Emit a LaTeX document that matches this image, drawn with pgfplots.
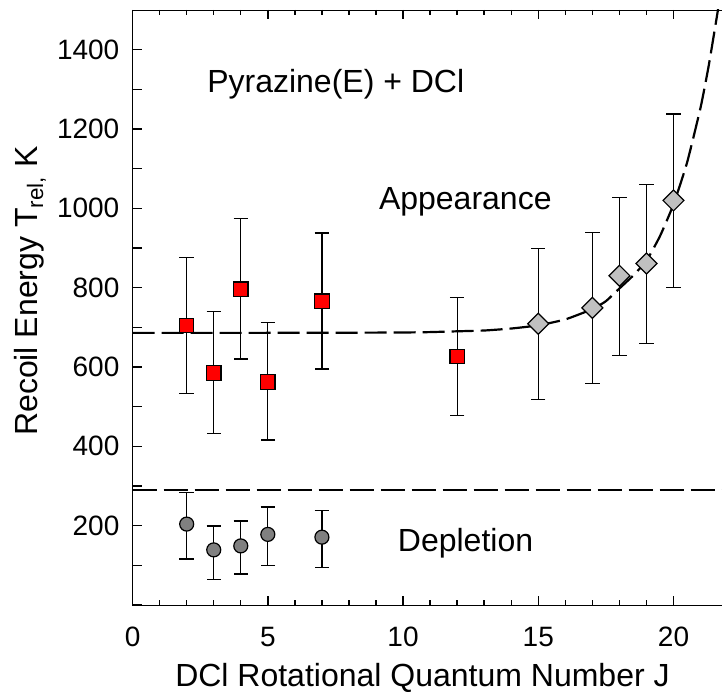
\documentclass[border=0pt]{standalone}
\usepackage{pgfplots}
\pgfplotsset{compat=1.18}
\usepackage{pgfplotstable}
\usepackage{fontspec}
\setmainfont{Liberation Sans}
\definecolor{dgray}{RGB}{128,128,128}
\definecolor{lgray}{RGB}{192,192,192}

\pgfplotstableread{
x y ep em
2 705 172 172
3 585 154 153
4 796 178 176
5 562 151 146
7 766 172 171
12 626 150 149
}\tabred

\pgfplotstableread{
x y ep em
15 709 189 190
17 749 191 191
18 830 198 202
19 861 199 202
20 1020 218 220
}\tabdia

\pgfplotstableread{
x y ep em
2 204 79 88
3 139 60 74
4 149 63 71
5 178 69 79
7 171 67 77
}\tabdep

\pgfplotstableread{
x y
0 686
4 686
8 686.5
10 687
11 688
12 690
13 692
14 697
15 705
16 720
17 746
17.5 766
18 798
18.5 830
19 868
19.5 930
20 1010
20.5 1115
21 1254
21.3 1359
21.6 1482
21.7 1526
}\tabfit

\begin{document}
\begin{tikzpicture}
\begin{axis}[
  scale only axis,
  width=295.2pt, height=297.5pt,
  xmin=0, xmax=21.83, ymin=0, ymax=1500,
  ytick pos=left,
  tick style={black, line width=0.7pt},
  xtick={0,5,10,15,20},
  minor x tick num=4,
  ytick={0,100,...,1400},
  yticklabels={,,200,,400,,600,,800,,1000,,1200,,1400},
  major tick length=4.5pt, minor tick length=2.5pt,
  tick align=inside,
  /pgf/number format/assume math mode=true,
  tick label style={font=\fontsize{14}{16}\selectfont},
  xticklabel style={anchor=base, yshift=-20.8pt},
  yticklabel style={anchor=east, xshift=-3.1pt},
  xlabel={DCl Rotational Quantum Number J},
  ylabel={Recoil Energy T\textsubscript{rel,} K},
  label style={font=\fontsize{16}{19}\selectfont},
  xlabel style={at={(axis description cs:0.491,0)}, anchor=base, yshift=-40.5pt},
  ylabel style={at={(axis description cs:0,0.528)}, anchor=base, yshift=47.3pt},
]
\addplot[black, line width=0.6pt, dash pattern=on 12pt off 3.5pt] coordinates {(0,290) (21.83,290)};

\addplot[only marks, mark=*, mark size=3.5pt, mark options={fill=dgray, draw=black, line width=0.6pt},
  error bars/.cd, y dir=both, y explicit,
  error bar style={line width=0.6pt, black},
  error mark options={rotate=90, mark size=3.6pt, line width=0.6pt, black}]
  table[x=x, y=y, y error plus=ep, y error minus=em] {\tabdep};

\addplot[only marks, mark=square*, mark size=3.6pt, mark options={fill=red, draw=black, line width=0.6pt},
  error bars/.cd, y dir=both, y explicit,
  error bar style={line width=0.6pt, black},
  error mark options={rotate=90, mark size=3.6pt, line width=0.6pt, black}]
  table[x=x, y=y, y error plus=ep, y error minus=em] {\tabred};

\addplot[only marks, mark=square*, mark size=3.7pt, mark options={rotate=45, fill=lgray, draw=black, line width=0.6pt},
  error bars/.cd, y dir=both, y explicit,
  error bar style={line width=0.6pt, black},
  error mark options={rotate=90, mark size=3.6pt, line width=0.6pt, black}]
  table[x=x, y=y, y error plus=ep, y error minus=em] {\tabdia};

\addplot[black, line width=1.1pt, smooth, tension=0.3, dash pattern=on 11pt off 3.5pt] table[x=x,y=y] {\tabfit};

\node[anchor=base west, font=\fontsize{16}{19}\selectfont] at (axis cs:2.5,1293) {Pyrazine(E) + DCl};
\node[anchor=base west, font=\fontsize{16}{19}\selectfont] at (axis cs:8.85,997) {Appearance};
\node[anchor=base west, font=\fontsize{16}{19}\selectfont] at (axis cs:9.55,134) {Depletion};
\end{axis}
\pgfresetboundingbox
\path[use as bounding box] ([xshift=-66.3pt,yshift=-43pt]current axis.south west) rectangle ([xshift=-0.5pt,yshift=5pt]current axis.north east);
\end{tikzpicture}
\end{document}
